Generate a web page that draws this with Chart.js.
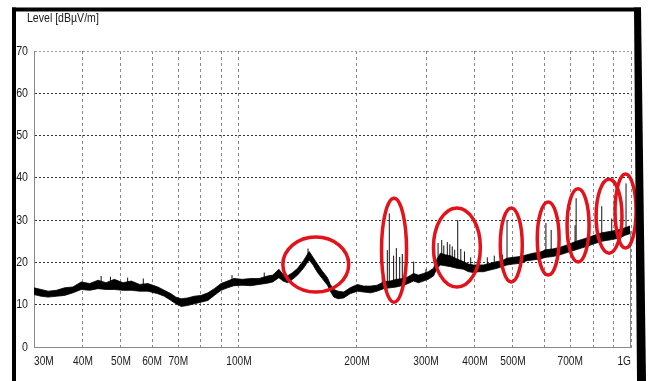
<!DOCTYPE html>
<html>
<head>
<meta charset="utf-8">
<script src="https://cdn.jsdelivr.net/npm/chart.js@4"></script>
<style>
html,body{margin:0;padding:0;background:#fff;}
#c{display:block;}
</style>
</head>
<body>
<canvas id="c" width="649" height="381"></canvas>
<script>
// ---- data (frequency in MHz, level in dBµV/m) ----
const freqMHz = [30,31.3,32.6,34.2,35.9,37.7,39.6,41.6,43.7,45.8,48.1,50.6,53.1,55.8,58.6,62.1,64.5,67.1,69.0,71.2,73.9,76.8,80.0,83.3,86.5,90.0,93.5,97.1,102,107.3,112.5,118.3,122,126.4,129.5,133.0,137,141.1,146,151.0,154.5,158.6,163,168.2,171,174.5,179,185.0,192,200.5,208,216.7,225,233.9,243,252.3,263.0,270,278.8,287,295.6,304,313.5,320,326.6,336,346.3,360,373.7,385,396.3,408,420.2,437,455.2,468,482.8,500,522,542,563,585,606.7,632,659.7,690,724.5,748,771.6,805,842.2,867,893,915,937.6,965,994];
const lowerDb = [12.4,12.0,11.8,12.0,12.2,12.8,13.6,13.4,13.8,13.6,13.6,13.4,13.4,13.2,13.2,12.6,12.0,11.0,10.2,9.6,9.8,10.2,10.6,11.0,12.2,13.4,14.0,14.5,14.6,14.5,14.8,15.1,15.4,16.4,15.6,15.2,16.0,17.0,18.6,20.6,19.4,17.6,16.2,14.6,13.2,11.8,11.4,11.6,12.6,13.2,13.0,12.8,13.2,13.8,14.0,14.2,14.6,15.0,15.6,15.2,15.6,16.0,16.8,18.6,19.4,19.2,19.0,18.6,18.4,17.8,17.6,17.8,17.8,18.2,18.6,19.0,19.4,19.6,19.8,20.4,20.6,20.8,21.2,21.4,21.8,22.4,23.0,23.4,23.8,24.4,25.0,25.2,25.4,25.6,25.8,26.4,26.8];
const upperDb = [14.0,13.6,13.2,13.4,14.0,14.2,15.4,15.0,15.8,15.2,16.0,15.2,15.6,14.8,15.0,14.2,13.4,12.6,11.8,11.4,11.6,12.0,12.2,12.8,13.8,15.0,15.6,16.2,16.0,16.2,16.2,16.8,17.0,18.4,17.2,16.8,17.6,18.6,20.4,22.6,21.2,19.6,18.0,16.4,14.8,13.6,13.2,13.0,14.0,14.8,14.4,14.4,14.6,15.4,15.6,16.0,16.2,16.6,17.4,17.0,17.4,17.8,18.6,20.8,22.2,21.8,21.6,20.8,20.2,19.6,19.4,19.4,19.4,19.8,20.2,20.4,21.0,21.2,21.4,21.8,22.2,22.4,23.0,23.2,23.6,24.2,25.0,25.4,25.8,26.4,27.0,27.2,27.4,27.6,27.8,28.2,28.6];

// narrow peaks: frequency, foot level, peak level
const spikeFreqMHz = [44.5,47,52,57,96,116,150,232,239,241.8,248,252,257,261,279,300,322,329,333,340,345,350,355,361.4,368,376,390,410,430,448,470,482.8,606.7,625.7,720,724.5,842.2,893,971.2,1000];
const spikeBaseDb  = [15.0,15.0,14.8,14.6,15.4,16.0,21.0,14.8,15.0,15.0,15.2,15.4,15.4,15.6,16.6,16.6,20.0,20.6,20.5,20.6,20.5,20.4,20.0,20.2,20.0,19.8,19.0,19.0,19.0,19.6,20.0,20.4,22.4,22.6,24.2,24.2,26.2,26.6,27.6,0];
const spikePeakDb  = [16.8,16.6,16.4,16.2,17.0,17.6,23.3,16.6,22.9,31.6,21.6,23.4,21.3,22.0,20.2,18.4,24.6,25.3,24.0,24.8,24.3,23.8,23.0,30.0,23.2,22.6,21.2,21.0,21.2,21.6,21.8,30.0,29.3,27.7,28.8,35.2,33.3,30.4,38.7,27.5];

// axes
const xGridMHz = [30,40,50,60,70,80,90,100,200,300,400,500,600,700,800,900,1000];
const xLabelMHz = [30,40,50,60,70,100,200,300,400,500,700,1000];
const xLabelText = ['30M','40M','50M','60M','70M','100M','200M','300M','400M','500M','700M','1G'];
const yTickDb = [0,10,20,30,40,50,60,70];
const yTitle = 'Level [dBµV/m]';

// marked regions (red ellipses), bounds in MHz and dBµV/m
const ellFreqLo = [129.4,231,313.4,464,576.6,687,814.7,910.5];
const ellFreqHi = [190.5,267.6,412.8,528,655.6,781.7,948.4,1030];
const ellDbLo   = [13.0,10.6,14.2,15.4,17.0,20.1,22.2,23.4];
const ellDbHi   = [26.0,35.2,32.9,32.9,34.3,37.4,39.7,40.9];

// ---- build ----
const lowerPts = freqMHz.map((f,i)=>({x:f,y:lowerDb[i]}));
const upperPts = freqMHz.map((f,i)=>({x:f,y:upperDb[i]}));
const spikePts = [];
spikeFreqMHz.forEach((f,i)=>{
  spikePts.push({x:f,y:spikeBaseDb[i]});
  spikePts.push({x:f,y:spikePeakDb[i]});
  spikePts.push({x:f,y:null});
});

function drawCondensed(ctx, text, x, y, size, sx, align){
  ctx.save();
  ctx.font = size + 'px "Liberation Sans", Arial, sans-serif';
  ctx.textBaseline = 'middle';
  const w = ctx.measureText(text).width * sx;
  let left = x;
  if (align === 'center') left = x - w/2;
  else if (align === 'right') left = x - w;
  ctx.translate(left, y);
  ctx.scale(sx, 1);
  ctx.textAlign = 'left';
  ctx.fillStyle = '#1a1a1a';
  ctx.fillText(text, 0, 0);
  ctx.restore();
}

const decor = {
  id: 'decor',
  afterDraw(chart){
    const ctx = chart.ctx;
    const xs = chart.scales.x, ys = chart.scales.y;
    // ellipses
    ctx.save();
    ctx.strokeStyle = '#e3121b';
    ctx.lineWidth = 3.5;
    for (let i=0;i<ellFreqLo.length;i++){
      const x1 = xs.getPixelForValue(ellFreqLo[i]), x2 = xs.getPixelForValue(ellFreqHi[i]);
      const y1 = ys.getPixelForValue(ellDbHi[i]), y2 = ys.getPixelForValue(ellDbLo[i]);
      ctx.beginPath();
      ctx.ellipse((x1+x2)/2,(y1+y2)/2,(x2-x1)/2,(y2-y1)/2,0,0,Math.PI*2);
      ctx.stroke();
    }
    ctx.restore();
    // y labels
    yTickDb.forEach(v=>{
      drawCondensed(ctx, String(v), 28, ys.getPixelForValue(v), 13, 0.82, 'right');
    });
    // x labels
    const last = xLabelMHz.length-1;
    xLabelMHz.forEach((v,i)=>{
      const px = xs.getPixelForValue(v);
      const align = i===0 ? 'left' : (i===last ? 'right' : 'center');
      drawCondensed(ctx, xLabelText[i], px, 361, 13, 0.78, align);
    });
    // title
    drawCondensed(ctx, yTitle, 27, 19, 12, 0.88, 'left');
    // outer black frame
    ctx.save();
    ctx.fillStyle = '#000';
    ctx.fillRect(12, 7.5, 629, 4);
    ctx.fillRect(12, 7.5, 4, 381);
    ctx.beginPath();
    ctx.moveTo(634,7.5); ctx.lineTo(641,7.5); ctx.lineTo(646,381); ctx.lineTo(637,381); ctx.closePath();
    ctx.fill();
    ctx.restore();
  }
};

new Chart(document.getElementById('c'), {
  type: 'line',
  data: {
    datasets: [
      {data: lowerPts, borderColor:'#000', borderWidth:0.8, pointRadius:0, fill:false, tension:0},
      {data: upperPts, borderColor:'#000', borderWidth:0.8, pointRadius:0, fill:'-1', backgroundColor:'#000', tension:0},
      {data: spikePts, borderColor:'#111', borderWidth:1, pointRadius:0, fill:false, spanGaps:false, tension:0}
    ]
  },
  options: {
    responsive: false,
    animation: false,
    events: [],
    layout: {padding: {left:34, right:18, top:51, bottom:34}},
    plugins: {legend:{display:false}, tooltip:{enabled:false}},
    scales: {
      x: {
        type: 'logarithmic', min: 30, max: 1000,
        afterBuildTicks(scale){ scale.ticks = xGridMHz.map(v=>({value:v})); },
        ticks: {display:false},
        grid: {color:'#8a8a8a', lineWidth:1, drawTicks:false},
        border: {display:true, color:'#8a8a8a', width:1, dash:[3,3]}
      },
      y: {
        type: 'linear', min: 0, max: 70,
        afterBuildTicks(scale){ scale.ticks = yTickDb.map(v=>({value:v})); },
        ticks: {display:false},
        grid: {color:(c)=> c.tick && c.tick.value===70 ? '#9a9a9a' : '#333', lineWidth:1, drawTicks:false},
        border: {display:true, color:'#8a8a8a', width:1, dash:[2,2]}
      }
    }
  },
  plugins: [decor]
});
</script>
</body>
</html>
